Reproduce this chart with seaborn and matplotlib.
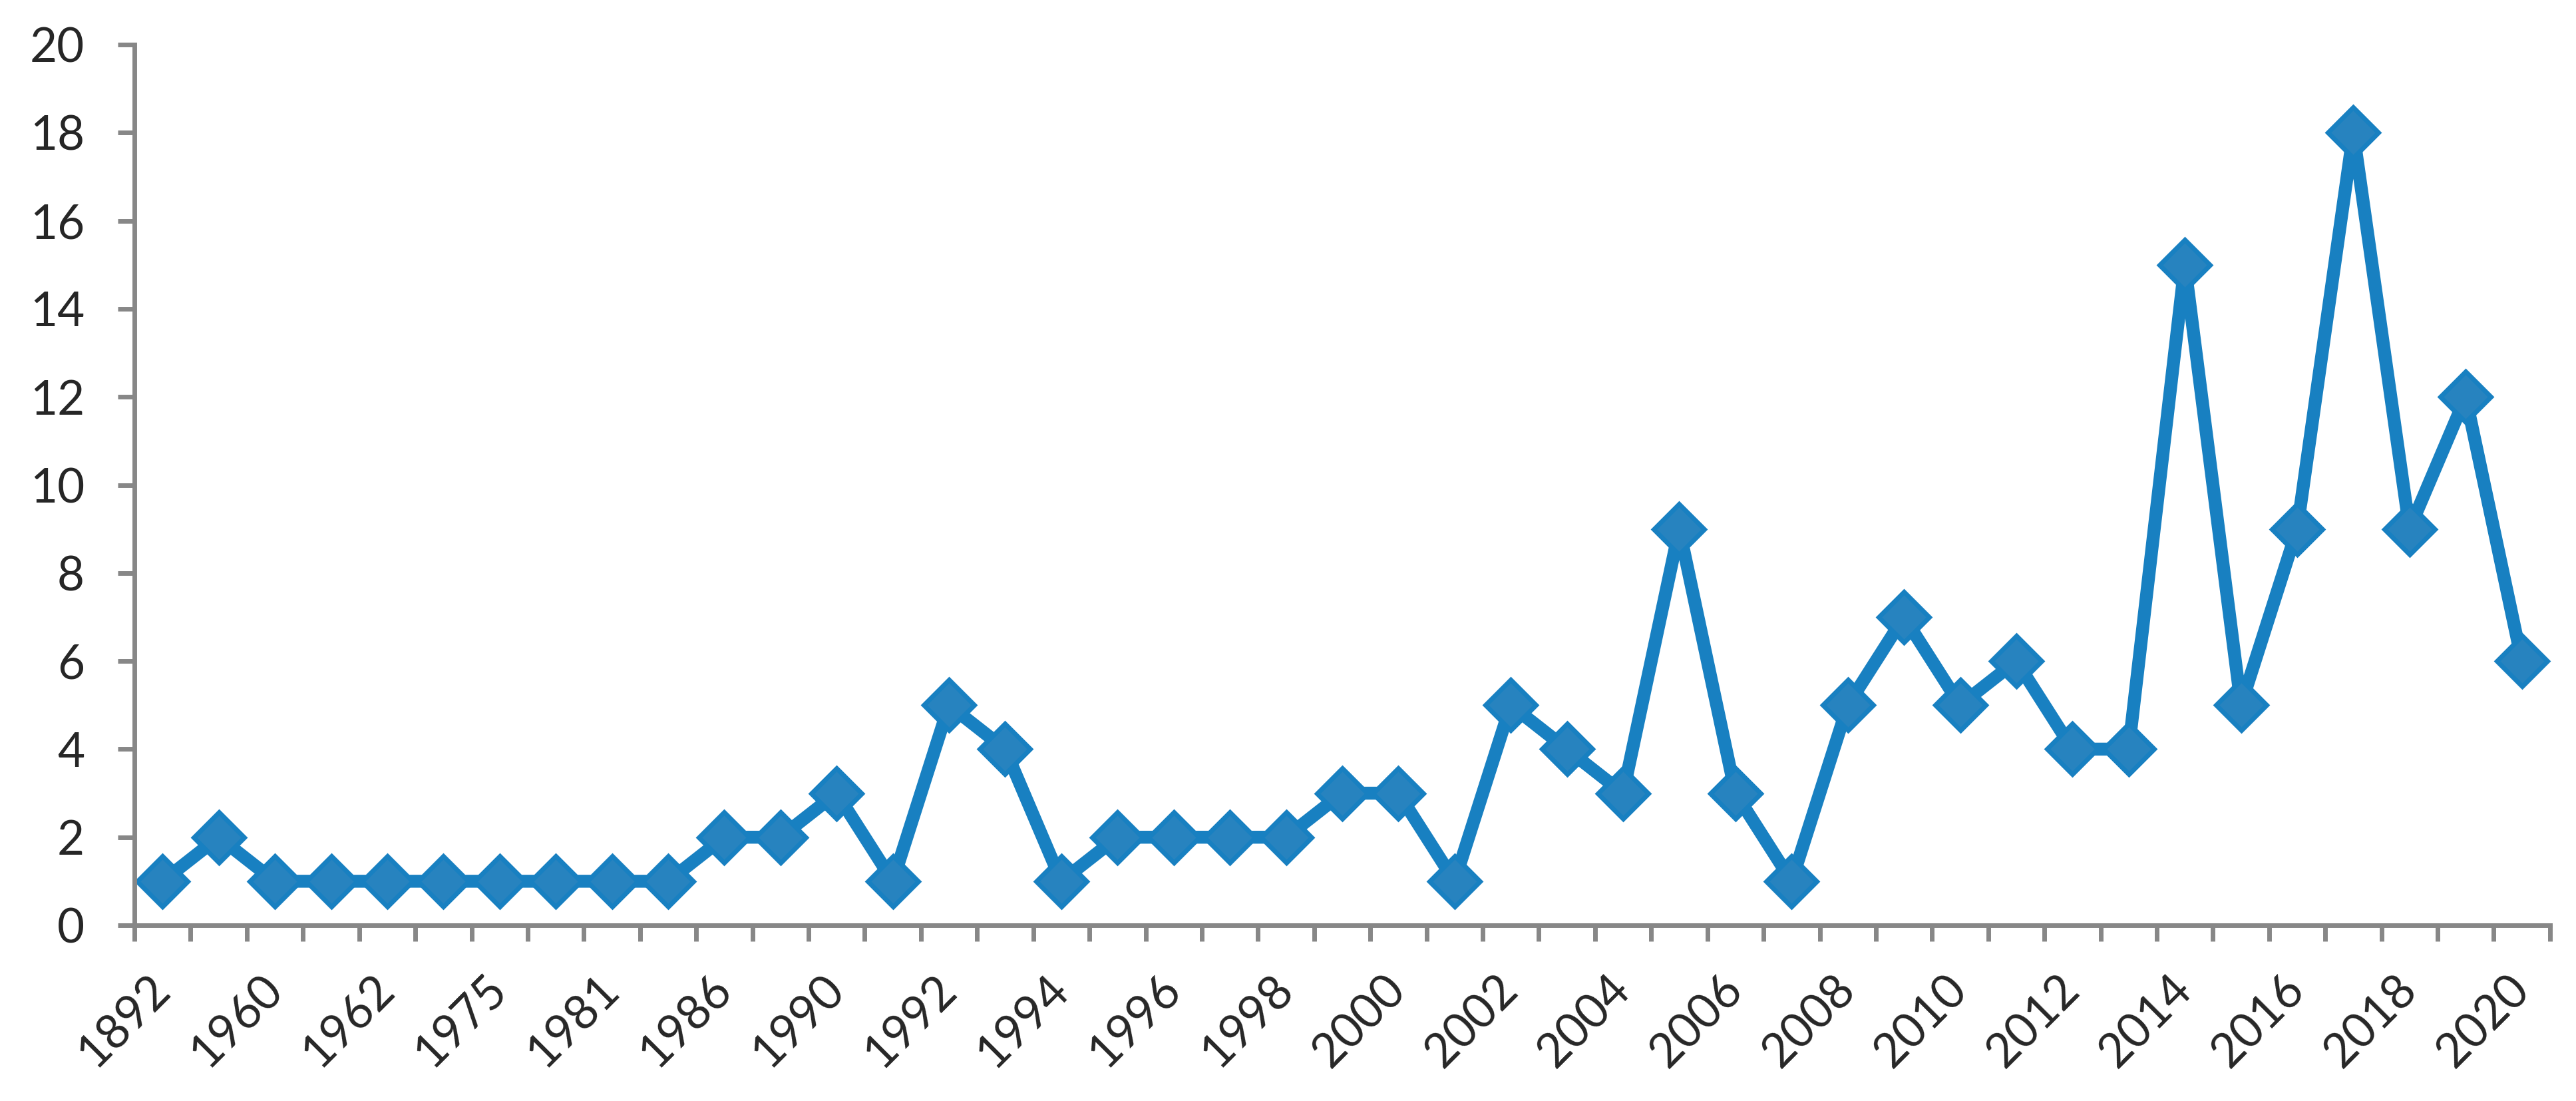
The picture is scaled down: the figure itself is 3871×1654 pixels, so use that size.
import numpy as np
import matplotlib
matplotlib.use('Agg')
import matplotlib.pyplot as plt
import seaborn as sns

# Data (one point per category, labels shown on every other one)
counts = [1, 2, 1, 1, 1, 1, 1, 1, 1, 1,
          2, 2, 3, 1, 5, 4, 1, 2, 2, 2,
          2, 3, 3, 1, 5, 4, 3, 9, 3, 1,
          5, 7, 5, 6, 4, 4, 15, 5, 9, 18,
          9, 12, 6]
year_labels = ['1892', '1960', '1962', '1975', '1981', '1986', '1990', '1992',
               '1994', '1996', '1998', '2000', '2002', '2004', '2006', '2008',
               '2010', '2012', '2014', '2016', '2018', '2020']
y_ticks = list(range(0, 21, 2))

LINE_BLUE = '#1880C1'
FILL_BLUE = '#2783BF'
AXIS_GREY = '#878787'

sns.set_style('white')
plt.rcParams['font.family'] = ['Lato', 'DejaVu Sans']

positions = np.arange(len(counts))

fig = plt.figure(figsize=(38.71, 16.54), dpi=100)
ax = fig.add_axes([0.0522, 0.1596, 0.9377, 0.7999])

sns.lineplot(x=positions, y=counts, ax=ax, color=LINE_BLUE, linewidth=14,
             marker='D', markersize=39, markerfacecolor=FILL_BLUE,
             markeredgecolor=LINE_BLUE, markeredgewidth=5, clip_on=False)

ax.set_xlim(-0.5, len(counts) - 0.5)
ax.set_ylim(0, 20)

# tick marks between categories, labels on every other category
ax.set_xticks(np.arange(-0.5, len(counts), 1))
ax.set_xticklabels([])
ax.set_xticks(positions[::2], minor=True)
ax.set_xticklabels(year_labels, minor=True, rotation=45, ha='right',
                   va='center', rotation_mode='anchor', fontsize=51)
ax.tick_params(axis='x', which='major', length=17, width=5, color=AXIS_GREY,
               direction='out', bottom=True)
ax.tick_params(axis='x', which='minor', length=0, pad=62, bottom=True)

ax.set_yticks(y_ticks)
ax.set_yticklabels([str(t) for t in y_ticks], fontsize=51)
ax.tick_params(axis='y', length=18, width=5, color=AXIS_GREY, direction='out',
               pad=36, left=True)

for side in ['top', 'right']:
    ax.spines[side].set_visible(False)
for side in ['left', 'bottom']:
    ax.spines[side].set_color(AXIS_GREY)
    ax.spines[side].set_linewidth(5)

ax.set_xlabel('')
ax.set_ylabel('')

fig.savefig('out.png', dpi=100, facecolor='white')
